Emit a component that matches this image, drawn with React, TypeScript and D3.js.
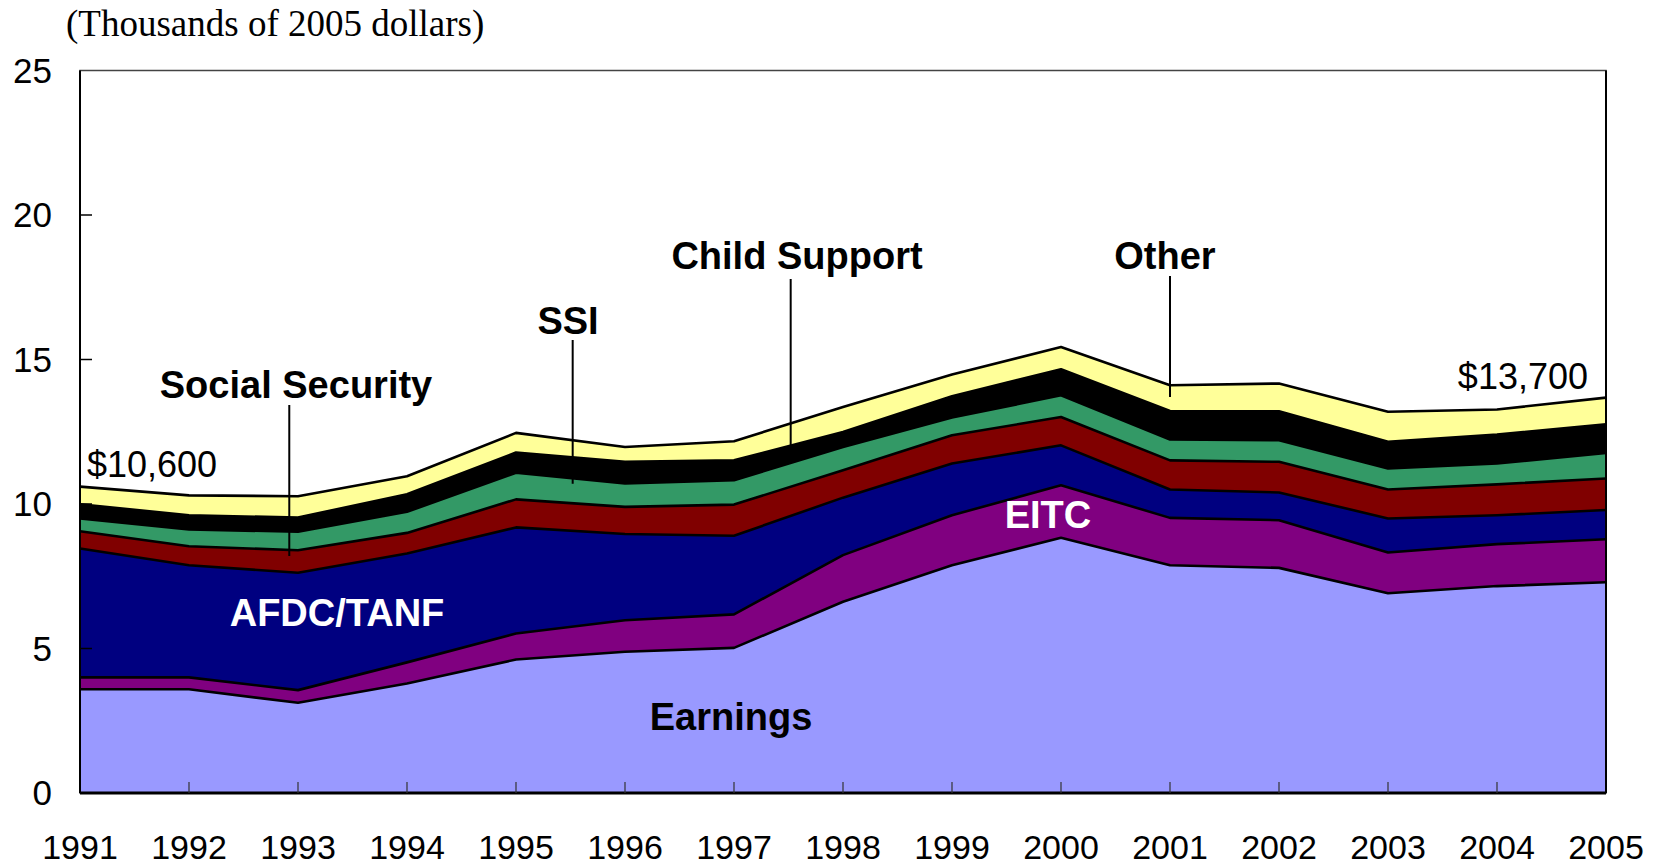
import React from "react";
import * as d3 from "d3";

// income sources per year, thousands of 2005 dollars
const years = [1991, 1992, 1993, 1994, 1995, 1996, 1997, 1998, 1999, 2000, 2001, 2002, 2003, 2004, 2005];
const earnings = [3.59, 3.59, 3.12, 3.79, 4.62, 4.89, 5.02, 6.62, 7.88, 8.83, 7.88, 7.79, 6.91, 7.16, 7.29];
const eitc = [0.41, 0.41, 0.44, 0.73, 0.9, 1.09, 1.16, 1.61, 1.73, 1.82, 1.64, 1.65, 1.41, 1.45, 1.49];
const afdcTanf = [4.46, 3.88, 4.06, 3.77, 3.67, 2.98, 2.72, 1.99, 1.79, 1.38, 0.98, 0.96, 1.18, 1.0, 1.01];
const socialSecurity = [0.6, 0.66, 0.78, 0.71, 0.97, 0.94, 1.08, 0.95, 0.98, 0.98, 1.01, 1.06, 1.0, 1.07, 1.09];
const ssi = [0.44, 0.58, 0.64, 0.73, 0.92, 0.81, 0.84, 0.8, 0.61, 0.75, 0.72, 0.75, 0.73, 0.72, 0.89];
const childSupport = [0.49, 0.49, 0.49, 0.61, 0.7, 0.75, 0.69, 0.52, 0.74, 0.9, 0.99, 1.0, 0.92, 1.0, 0.99];
const other = [0.61, 0.69, 0.74, 0.62, 0.68, 0.51, 0.66, 0.87, 0.75, 0.77, 0.89, 0.96, 1.04, 0.87, 0.92];
const yTicks = [0, 5, 10, 15, 20, 25];

const seriesKeys = ["earnings", "eitc", "afdcTanf", "socialSecurity", "ssi", "childSupport", "other"];
const seriesValues = [earnings, eitc, afdcTanf, socialSecurity, ssi, childSupport, other];
const seriesColors = ["#9999FF", "#800080", "#000080", "#800000", "#339966", "#000000", "#FFFF99"];

const width = 1667;
const height = 865;
const left = 80;
const right = 1606;
const top = 70.5;
const bottom = 793;

const sans = "'Liberation Sans', Arial, sans-serif";

export default function App() {
  const rows = years.map((year, i) => {
    const row: any = { year };
    seriesKeys.forEach((k, j) => (row[k] = seriesValues[j][i]));
    return row;
  });

  const stacked = d3.stack().keys(seriesKeys)(rows);

  const x = d3.scaleLinear().domain([1991, 2005]).range([left, right]);
  const y = d3.scaleLinear().domain([0, 25]).range([bottom, top]);

  const area = d3
    .area<any>()
    .x((d) => x(d.data.year))
    .y0((d) => y(d[0]))
    .y1((d) => y(d[1]));

  const edge = d3
    .line<any>()
    .x((d) => x(d.data.year))
    .y((d) => y(d[1]));

  const total = (i: number) => stacked[stacked.length - 1][i][1];
  const xAt = (yr: number) => x(yr);

  // callout labels with their leader lines (v = value where the line stops)
  const callouts = [
    { text: "Social Security", cx: 296, ty: 398, lx: xAt(1992.92), y1: 405, v: 8.2 },
    { text: "SSI", cx: 568, ty: 334, lx: xAt(1995.52), y1: 340, v: 10.7 },
    { text: "Child Support", cx: 797, ty: 269, lx: xAt(1997.52), y1: 279, v: 12.0 },
    { text: "Other", cx: 1165, ty: 269, lx: xAt(2001), y1: 276, v: 13.7 },
  ];

  return (
    <div style={{ position: "absolute", left: 0, top: 0 }}>
      <svg width={width} height={height} style={{ display: "block", background: "#fff" }}>
        <text x={66} y={36} fontFamily="'Liberation Serif', 'Times New Roman', serif" fontSize={37} fill="#000">
          (Thousands of 2005 dollars)
        </text>

        {stacked.map((s, i) => (
          <path key={s.key} d={area(s) || ""} fill={seriesColors[i]} stroke="none" />
        ))}
        {stacked.map((s) => (
          <path key={"e" + s.key} d={edge(s) || ""} fill="none" stroke="#000" strokeWidth={2.6} strokeLinejoin="round" />
        ))}

        {callouts.map((c) => (
          <g key={c.text}>
            <line x1={c.lx} x2={c.lx} y1={c.y1} y2={y(c.v)} stroke="#000" strokeWidth={2} />
            <text x={c.cx} y={c.ty} textAnchor="middle" fontFamily={sans} fontWeight="bold" fontSize={38} fill="#000">
              {c.text}
            </text>
          </g>
        ))}

        <text x={337} y={626} textAnchor="middle" fontFamily={sans} fontWeight="bold" fontSize={38} fill="#fff">
          AFDC/TANF
        </text>
        <text x={1048} y={528} textAnchor="middle" fontFamily={sans} fontWeight="bold" fontSize={38} fill="#fff">
          EITC
        </text>
        <text x={731} y={730} textAnchor="middle" fontFamily={sans} fontWeight="bold" fontSize={38} fill="#000">
          Earnings
        </text>

        <text x={87} y={y(total(0)) - 10} fontFamily={sans} fontSize={36} fill="#000">
          $10,600
        </text>
        <text x={1588} y={y(total(years.length - 1)) - 9} textAnchor="end" fontFamily={sans} fontSize={36} fill="#000">
          $13,700
        </text>

        {/* plot frame */}
        <rect x={left} y={top} width={right - left} height={bottom - top} fill="none" stroke="#444" strokeWidth={1.5} />
        <line x1={left} x2={left} y1={top} y2={bottom} stroke="#000" strokeWidth={2} />
        <line x1={right} x2={right} y1={top} y2={bottom} stroke="#000" strokeWidth={2} />
        <line x1={left} x2={right} y1={bottom} y2={bottom} stroke="#000" strokeWidth={3} />

        {yTicks.map((t) => (
          <g key={"y" + t}>
            {t > 0 && t < 25 && <line x1={left} x2={left + 12} y1={y(t)} y2={y(t)} stroke="#000" strokeWidth={1.5} />}
            <text x={52} y={y(t)} dy="0.35em" textAnchor="end" fontFamily={sans} fontSize={35} fill="#000">
              {t}
            </text>
          </g>
        ))}

        {years.map((yr, i) => (
          <g key={"x" + yr}>
            {i > 0 && i < years.length - 1 && (
              <line x1={x(yr)} x2={x(yr)} y1={bottom} y2={bottom - 11} stroke="#333" strokeWidth={1.2} />
            )}
            <text x={x(yr)} y={859} textAnchor="middle" fontFamily={sans} fontSize={34} fill="#000">
              {yr}
            </text>
          </g>
        ))}
      </svg>
    </div>
  );
}
